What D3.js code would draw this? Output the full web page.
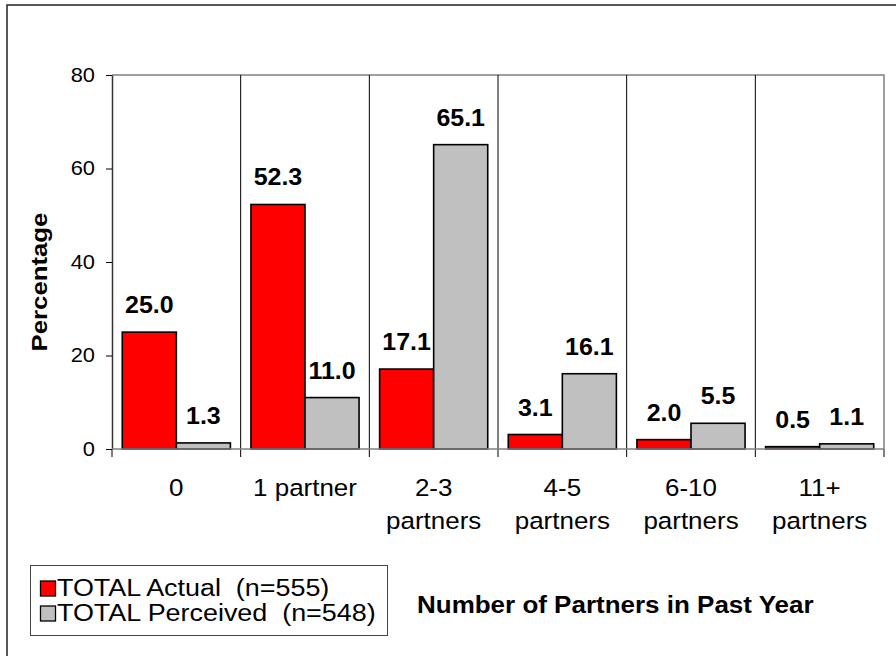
<!DOCTYPE html>
<html>
<head>
<meta charset="utf-8">
<script src="https://cdn.jsdelivr.net/npm/d3@7"></script>
<style>
  body { margin: 0; background: #fff; }
  text { font-family: Arial, "Liberation Sans", sans-serif; fill: #000; }
</style>
</head>
<body>
<div id="chart"></div>
<script>
/* globals d3 */

let categories = ['0', '1 partner', '2-3 partners', '4-5 partners', '6-10 partners', '11+ partners']
let actual = [25.0, 52.3, 17.1, 3.1, 2.0, 0.5]
let perceived = [1.3, 11.0, 65.1, 16.1, 5.5, 1.1]
let seriesKeys = ['actual', 'perceived']
let seriesNames = ['TOTAL Actual  (n=555)', 'TOTAL Perceived  (n=548)']
let seriesColors = ['#ff0000', '#c0c0c0']
let yTicks = [0, 20, 40, 60, 80]

let width = 896
let height = 656
let plot = { left: 112, right: 884, top: 75, bottom: 449 }

let svg = d3.select('#chart').append('svg')
    .attr('width', width)
    .attr('height', height)

// outer frame (only left and top edge show)
svg.append('path')
    .attr('d', 'M7,' + height + 'V5H' + width)
    .attr('fill', 'none')
    .attr('stroke', '#222')
    .attr('stroke-width', 1.5)

let x = d3.scaleBand().domain(categories).range([plot.left, plot.right])
let xs = d3.scaleBand().domain(seriesKeys).range([0, x.bandwidth()]).paddingOuter(0.19)
let y = d3.scaleLinear().domain([0, 80]).range([plot.bottom, plot.top])

// plot border top / right
svg.append('path')
    .attr('d', 'M' + plot.left + ',' + y(80) + 'H' + plot.right + 'V' + y(0))
    .attr('fill', 'none')
    .attr('stroke', '#808080')
    .attr('stroke-width', 1.5)

// category separators
let edges = categories.map((c) => x(c)).concat([plot.right])
svg.append('g').selectAll('line')
    .data(edges.slice(1, -1))
    .enter().append('line')
      .attr('x1', (d) => d).attr('x2', (d) => d)
      .attr('y1', y(80)).attr('y2', y(0))
      .attr('stroke', '#000')
      .attr('stroke-width', 1)

// bottom ticks
svg.append('g').selectAll('line')
    .data(edges)
    .enter().append('line')
      .attr('x1', (d) => d).attr('x2', (d) => d)
      .attr('y1', y(0)).attr('y2', y(0) + 8)
      .attr('stroke', '#000')
      .attr('stroke-width', 1)

// bars
let rows = categories.map((c, i) => ({ cat: c, actual: actual[i], perceived: perceived[i] }))
let groups = svg.append('g').selectAll('g')
    .data(rows)
    .enter().append('g')
      .attr('transform', (d) => 'translate(' + x(d.cat) + ',0)')

groups.selectAll('rect')
    .data((d) => seriesKeys.map((k, j) => ({ key: k, value: d[k], color: seriesColors[j] })))
    .enter().append('rect')
      .attr('x', (d) => xs(d.key))
      .attr('y', (d) => y(d.value))
      .attr('width', xs.bandwidth())
      .attr('height', (d) => y(0) - y(d.value))
      .attr('fill', (d) => d.color)
      .attr('stroke', '#000')
      .attr('stroke-width', 1.6)

groups.selectAll('g.lbl')
    .data((d) => seriesKeys.map((k) => ({ key: k, value: d[k] })))
    .enter().append('g')
      .attr('class', 'lbl')
      .attr('transform', (d) => 'translate(' + (xs(d.key) + xs.bandwidth() / 2) + ',' + (y(d.value) - 19) + ') scale(1.04,1)')
    .append('text')
      .attr('text-anchor', 'middle')
      .style('font-size', '24px')
      .style('font-weight', 'bold')
      .text((d) => d.value.toFixed(1))

// y axis
let yAxis = svg.append('g')
    .attr('transform', 'translate(' + plot.left + ',0)')
    .call(d3.axisLeft(y).tickValues(yTicks).tickSize(6).tickSizeOuter(0))
yAxis.select('.domain').attr('stroke', '#333').attr('stroke-width', 1.5)
yAxis.selectAll('.tick line').attr('stroke', '#000')
yAxis.selectAll('.tick text')
    .attr('x', null)
    .attr('transform', 'translate(-17,0) scale(1.12,1)')
    .style('font-size', '19.5px')
    .style('font-family', 'Arial, "Liberation Sans", sans-serif')
    .attr('fill', '#000')

// x baseline
svg.append('line')
    .attr('x1', plot.left).attr('x2', plot.right)
    .attr('y1', y(0)).attr('y2', y(0))
    .attr('stroke', '#808080')
    .attr('stroke-width', 1.5)

// category labels
let catLabels = svg.append('g').selectAll('g')
    .data(categories)
    .enter().append('g')
      .attr('transform', (d) => 'translate(' + (x(d) + x.bandwidth() / 2) + ',496) scale(1.06,1)')
    .append('text')
      .attr('text-anchor', 'middle')
      .style('font-size', '24.5px')
catLabels.selectAll('tspan')
    .data((d) => (d.endsWith('partners') ? d.split(' ') : [d]))
    .enter().append('tspan')
      .attr('x', 0)
      .attr('dy', (d, i) => (i === 0 ? 0 : 33))
      .text((d) => d)

// y title
svg.append('g')
    .attr('transform', 'translate(47,282) rotate(-90) scale(1.12,1)')
  .append('text')
    .attr('text-anchor', 'middle')
    .style('font-size', '23px')
    .style('font-weight', 'bold')
    .text('Percentage')

// x title
svg.append('g')
    .attr('transform', 'translate(417,613) scale(1.13,1)')
  .append('text')
    .style('font-size', '23px')
    .style('font-weight', 'bold')
    .text('Number of Partners in Past Year')

// legend
let legend = svg.append('g')
legend.append('rect')
    .attr('x', 30.5).attr('y', 565.5)
    .attr('width', 357).attr('height', 70)
    .attr('fill', '#fff')
    .attr('stroke', '#444')
    .attr('stroke-width', 1)

let items = legend.selectAll('g')
    .data(seriesNames)
    .enter().append('g')
      .attr('transform', (d, i) => 'translate(0,' + (596 + i * 25) + ')')
items.append('rect')
    .attr('x', 40.5).attr('y', -15)
    .attr('width', 15).attr('height', 15)
    .attr('fill', (d, i) => seriesColors[i])
    .attr('stroke', '#000')
    .attr('stroke-width', 1.3)
items.append('g')
    .attr('transform', 'translate(57,0) scale(1.17,1)')
  .append('text')
    .style('font-size', '23px')
    .style('white-space', 'pre')
    .attr('xml:space', 'preserve')
    .text((d) => d)
</script>
</body>
</html>
